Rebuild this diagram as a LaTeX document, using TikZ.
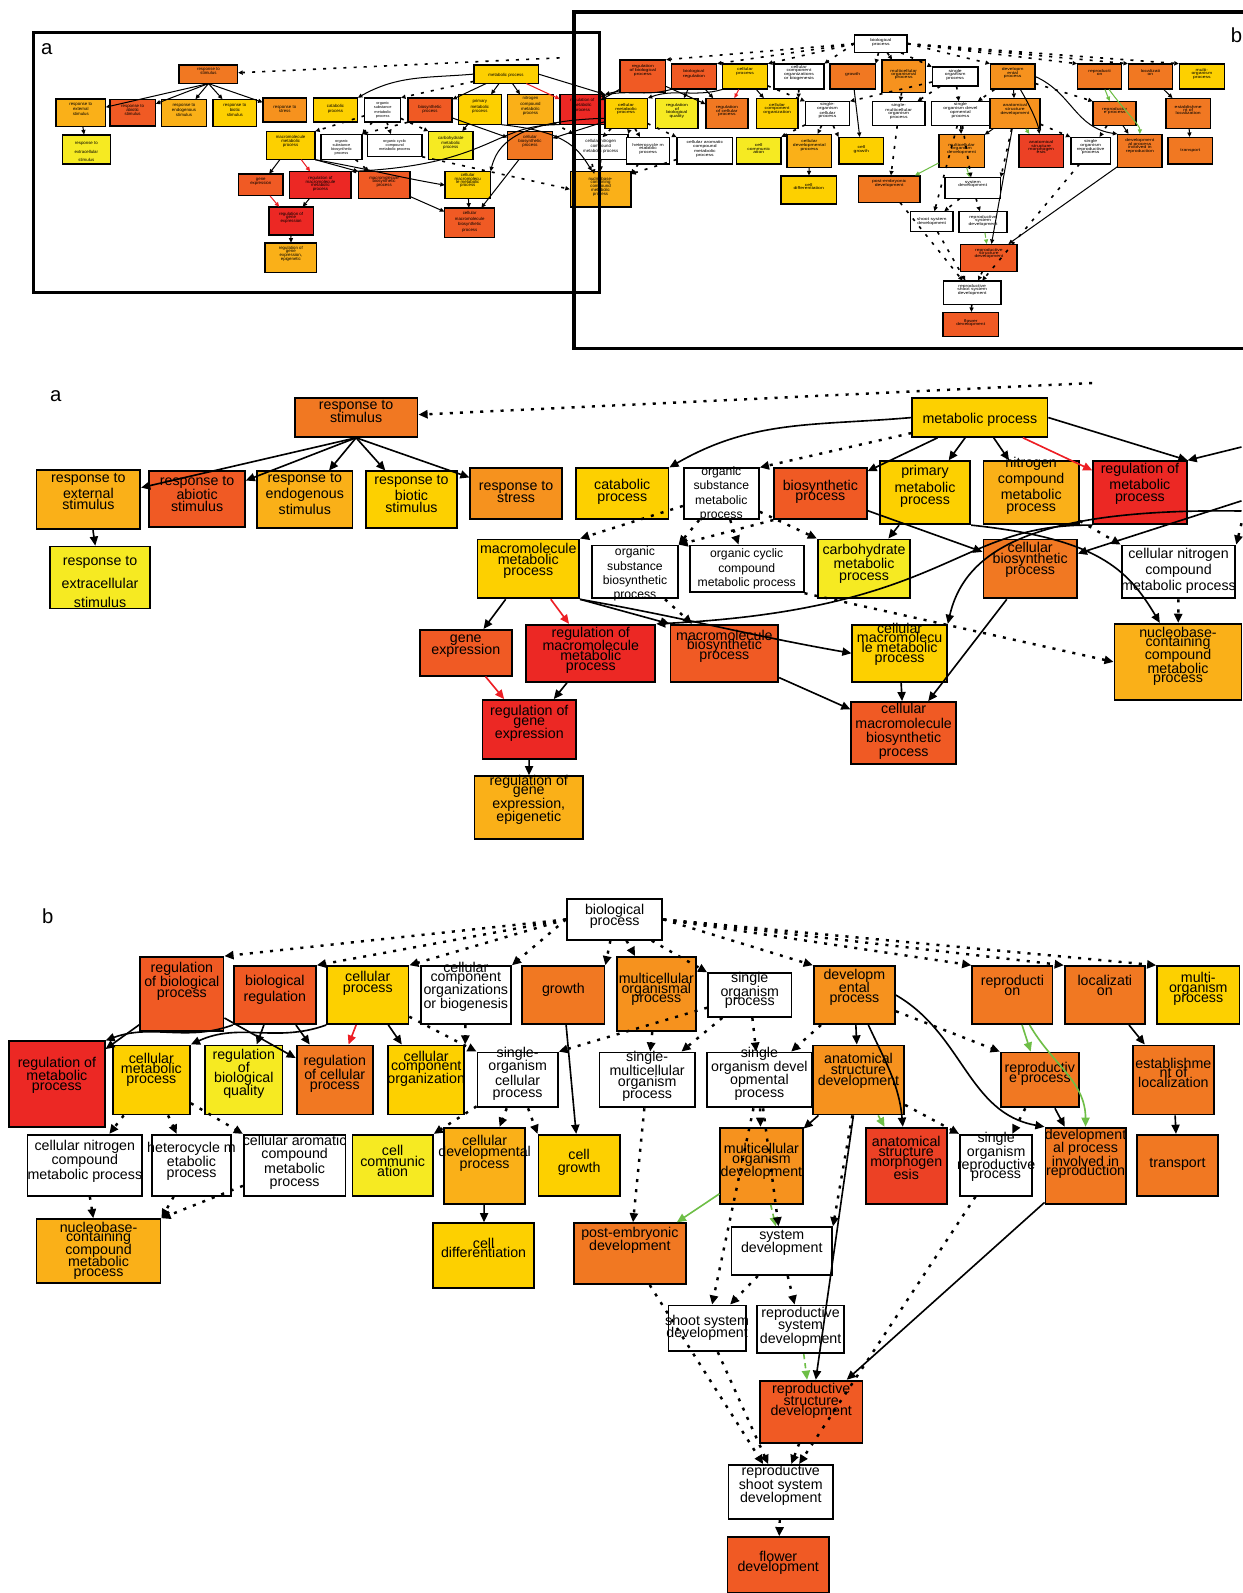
\documentclass[tikz,border=0pt]{standalone}
\usepackage{fontspec}
\setmainfont{Liberation Sans}
\usetikzlibrary{arrows.meta}

% --- term colours (enrichment scale) ---
\definecolor{goGold}{RGB}{253,208,0}
\definecolor{goYellow}{RGB}{246,234,34}
\definecolor{goAmber}{RGB}{250,176,24}
\definecolor{goOrange}{RGB}{246,146,30}
\definecolor{goDkOrange}{RGB}{241,120,34}
\definecolor{goRedOr}{RGB}{240,90,36}
\definecolor{goVermil}{RGB}{236,65,37}
\definecolor{goRed}{RGB}{236,40,36}
\definecolor{edgeRed}{RGB}{237,30,36}
\definecolor{edgeGreen}{RGB}{110,190,70}

\newcommand{\gofont}{\fontsize{14}{10.5}\selectfont}
\newcommand{\gosmall}{\fontsize{12}{14}\selectfont}
\newcommand{\tipL}{9pt}
\newcommand{\tipW}{8pt}
\newcommand{\edgew}{1.6pt}
\newcommand{\dotw}{2.4pt}
\newcommand{\boxw}{1.8pt}
\newif\ifshowshared
\showsharedtrue

\tikzset{
    gobox/.style={draw=black, line width=\boxw, inner sep=0pt, rectangle},
    golabel/.style={align=center, inner sep=0pt, font=\gofont, text=black},
    isa/.style={-{Triangle[length=\tipL,width=\tipW]}, line width=\edgew, draw=black},
    posreg/.style={isa, draw=edgeRed},
    upreg/.style={isa, draw=edgeGreen},
    greendash/.style={upreg, dash pattern=on 5pt off 4pt},
    partof/.style={isa, line width=\dotw, dash pattern=on 3pt off 7pt},
    frame/.style={draw=black, line width=3.5pt},
    panlab/.style={font=\fontsize{20}{24}\selectfont, inner sep=0pt},
    mini/.style={transform shape}
}

% term box: [label opts]{name}{x1}{y1}{x2}{y2}{fill}{text offset}{text}
\newcommand{\gonode}[9][]{%
    \node[gobox, fill=#7, minimum width={(#5-#3)*1pt}, minimum height={(#6-#4)*1pt}]
        (#2) at ({(#3+#5)/2},{(#4+#6)/2}) {};
    \node[golabel,#1] (#2-t) at ({(#3+#5)/2},{#4+#8}) {#9};%
}
% term that both panels share: drawn once in the overview
\newcommand{\sharednode}[9][]{%
    \ifshowshared
        \gonode[#1]{#2}{#3}{#4}{#5}{#6}{#7}{#8}{#9}%
    \else
        \node[inner sep=0pt, minimum width={(#5-#3)*1pt}, minimum height={(#6-#4)*1pt}]
            (#2) at ({(#3+#5)/2},{(#4+#6)/2}) {};%
    \fi
}

% =========================================================
% PANEL A: response to stimulus / metabolic process
% =========================================================
\newcommand{\panelA}{%
    \gonode{stim}{290}{392}{411}{430}{goDkOrange}{13}{response to\\[-0.5pt]stimulus}
    \gonode{met}{898}{392}{1031}{430}{goGold}{21}{metabolic process}
    \gonode{extS}{36}{463}{138}{521}{goAmber}{21}{response to\\[1pt]external\\[1pt]stimulus}
    \gonode{abio}{147}{464}{241}{519}{goRedOr}{22}{response to\\abiotic\\[1pt]stimulus}
    \gonode{endo}{253}{464}{347}{520}{goAmber}{22}{response to\\[1.5pt]endogenous\\[1.5pt]stimulus}
    \gonode{biot}{360}{464}{450}{520}{goGold}{22}{response to\\[1.5pt]biotic\\[1.5pt]stimulus}
    \gonode{stress}{463}{461}{553}{511}{goOrange}{23}{response to\\[-1pt]stress}
    \gonode{cata}{567}{461}{658}{511}{goGold}{23}{catabolic\\[1.5pt]process}
    \gonode[font=\gosmall]{orgsub}{673}{461}{747}{511}{white}{25}{organic\\substance\\metabolic\\process}
    \gonode{bios}{762}{461}{853}{511}{goRedOr}{23}{biosynthetic\\process}
    \gonode{prim}{866}{454}{955}{516}{goGold}{25}{primary\\[2pt]metabolic\\[2pt]process}
    \gonode{nitro}{968}{454}{1062}{516}{goAmber}{24}{nitrogen\\[1.5pt]compound\\[1.5pt]metabolic\\[1.5pt]process}
    \gonode{regmet}{1076}{454}{1168}{516}{goRed}{22}{regulation of\\[1.5pt]metabolic\\[1.5pt]process}
    \gonode{extra}{49}{538}{148}{599}{goYellow}{35}{response to\\[8.5pt]extracellular\\[8.5pt]stimulus}
    \gonode{macmet}{470}{531}{570}{589}{goGold}{21}{macromolecule\\metabolic\\process}
    \gonode[font=\gosmall]{orgsb}{583}{537}{667}{589}{white}{28}{organic\\substance\\biosynthetic\\process}
    \gonode[font=\gosmall]{orgcyc}{679}{537}{791}{583}{white}{23}{organic cyclic\\[0.5pt]compound\\[0.5pt]metabolic process}
    \gonode{carb}{805}{531}{896}{589}{goYellow}{24}{carbohydrate\\metabolic\\[1pt]process}
    \gonode{cbios}{968}{531}{1060}{589}{goDkOrange}{20}{cellular\\[0.5pt]biosynthetic\\process}
    \gonode{cnit}{1104}{537}{1216}{589}{white}{25}{cellular nitrogen\\[2pt]compound\\[2pt]metabolic process}
    \gonode{gene}{413}{620}{504}{665}{goRedOr}{16}{gene\\[-2.5pt]expression}
    \gonode{regmac}{518}{615}{645}{671}{goRed}{25}{regulation of\\[-1pt]macromolecule\\[-1pt]metabolic\\[-1pt]process}
    \gonode{macbio}{660}{615}{766}{671}{goRedOr}{21}{macromolecule\\[-1pt]biosynthetic\\[-1pt]process}
    \gonode{cmacmet}{839}{615}{932}{671}{goGold}{19}{cellular\\[-1pt]macromolecu\\[-1pt]le metabolic\\[-1pt]process}
    \gonode{nucA}{1097}{614}{1222}{689}{goAmber}{32}{nucleobase-\\[-1pt]containing\\[-1pt]compound\\[-1pt]metabolic\\[-1pt]process}
    \gonode{reggene}{475}{689}{567}{747}{goRed}{23}{regulation of\\[-1pt]gene\\[-1pt]expression}
    \gonode{cmacbio}{838}{691}{941}{752}{goRedOr}{29}{cellular\\[3.5pt]macromolecule\\[3.5pt]biosynthetic\\[3.5pt]process}
    \gonode{epi}{467}{764}{574}{826}{goAmber}{23}{regulation of\\[-1pt]gene\\[-1pt]expression,\\[-1pt]epigenetic}
    % loose ends (parents outside the panel)
    \coordinate (offA) at (1222,440);
    \coordinate (offB) at (1222,493);
    \coordinate (offB2) at (1222,503);
    \coordinate (offC) at (1075,377);
    \coordinate (offD) at (1222,515);
    % is_a
    \foreach \t in {extS,abio,endo,biot,stress}{\draw[isa] (stim.south) -- (\t);}
    \draw[isa] (extS) -- (extra);
    \draw[isa] (met.west) to[out=185,in=30] (cata.north east);
    \draw[isa] (met) -- (bios);
    \draw[isa] (met) -- (prim);
    \draw[isa] (met) -- (nitro);
    \draw[posreg] (met) -- (regmet);
    \draw[isa] (met.east) -- (regmet.north east);
    \draw[isa] (offA) -- (regmet.north east);
    \draw[isa] (offB) -- (cbios);
    \draw[isa] (prim) -- (carb);
    \draw[isa] (bios) -- (cbios);
    \draw[isa] (regmet.south west) .. controls (940,515) and (935,600) .. (regmac.north east);
    \draw[isa] (offB2) .. controls (1020,500) and (950,540) .. (cmacmet.north east);
    \draw[isa] (prim.south east) .. controls (1080,530) and (1110,560) .. (nucA.115);
    \draw[isa] (macmet) -- (gene);
    \draw[posreg] (macmet) -- (regmac);
    \draw[isa] (macmet.south east) -- (macbio.north west);
    \draw[isa] (macmet.south east) to[out=-10,in=170] (cmacmet.west);
    \draw[posreg] (gene) -- (reggene);
    \draw[isa] (regmac) -- (reggene);
    \draw[isa] (reggene) -- (epi);
    \draw[isa] (macbio) -- (cmacbio);
    \draw[isa] (cmacmet) -- (cmacbio);
    \draw[isa] (cbios) -- (cmacbio);
    % dotted
    \draw[partof] (offC) -- (stim);
    \draw[partof] (met) -- (orgsub.north east);
    \draw[partof] (orgsub) -- (macmet.north east);
    \draw[partof] (orgsub) -- (orgsb.north east);
    \draw[partof] (bios.south west) -- (orgsb.north east);
    \draw[partof] (orgsub) -- (orgcyc);
    \draw[partof] (orgsub) -- (carb.north west);
    \draw[partof] (orgsb) -- (macbio);
    \draw[partof] (nitro) -- (cnit.north west);
    \draw[partof] (offD) -- (cnit.north east);
    \draw[partof] (cnit) -- (nucA);
    \draw[partof] (orgcyc.south east) -- (nucA.west);
}

% =========================================================
% PANEL B: biological process
% =========================================================
\newcommand{\panelB}{%
    \gonode{bio}{558}{885}{652}{925}{white}{17}{biological\\process}
    \gonode{rbp}{138}{942}{220}{1015}{goRedOr}{24}{regulation\\of biological\\process}
    \gonode{breg}{230}{951}{311}{1008}{goRedOr}{23}{biological\\[1.5pt]regulation}
    \gonode{cell}{322}{951}{402}{1008}{goGold}{17}{cellular\\process}
    \gonode{ccob}{414}{951}{503}{1008}{white}{20}{cellular\\[-1pt]component\\[-1pt]organizations\\[-1pt]or biogenesis}
    \gonode{growth}{514}{951}{595}{1008}{goDkOrange}{23}{growth}
    \gonode{mop}{607}{942}{685}{1015}{goOrange}{32}{multicellular\\[-1pt]organismal\\[-1pt]process}
    \gonode{sop}{697}{958}{779}{1001}{white}{17}{single\\[-1pt]organism\\[-1pt]process}
    \gonode{dev}{801}{951}{881}{1008}{goOrange}{21}{developm\\[-1pt]ental\\[-1pt]process}
    \gonode{repr}{957}{951}{1036}{1008}{goDkOrange}{19}{reproducti\\[-1.5pt]on}
    \gonode{loc}{1048}{951}{1127}{1008}{goDkOrange}{19}{localizati\\[-1.5pt]on}
    \gonode{mulorg}{1139}{951}{1220}{1008}{goGold}{22}{multi-\\[-0.5pt]organism\\[-0.5pt]process}
    \sharednode{regmetB}{9}{1025}{103}{1109}{goRed}{33}{regulation of\\[-1pt]metabolic\\[-1pt]process}
    \gonode{cmet}{111}{1029}{187}{1097}{goGold}{24}{cellular\\[-0.5pt]metabolic\\[-0.5pt]process}
    \gonode{rbq}{202}{1029}{278}{1097}{goYellow}{28}{regulation\\[-1pt]of\\[-1pt]biological\\[-1pt]quality}
    \gonode{rcp}{292}{1029}{367}{1097}{goDkOrange}{28}{regulation\\[-0.5pt]of cellular\\[-0.5pt]process}
    \gonode{cco}{382}{1029}{457}{1097}{goGold}{23}{cellular\\[-1pt]component\\[-1pt]organization}
    \gonode{soc}{470}{1036}{549}{1090}{white}{21}{single-\\[-1pt]organism\\[1pt]cellular\\[1pt]process}
    \gonode{smop}{590}{1036}{684}{1090}{white}{23}{single-\\[0.5pt]multicellular\\[0.5pt]organism\\[0.5pt]process}
    \gonode{sodp}{696}{1036}{799}{1090}{white}{21}{single\\[-1pt]organism devel\\[-0.5pt]opmental\\[1.5pt]process}
    \gonode{asd}{800}{1029}{890}{1097}{goOrange}{25}{anatomical\\[0.5pt]structure\\[0.5pt]development}
    \gonode{rp}{985}{1036}{1062}{1090}{goDkOrange}{21}{reproductiv\\[-0.5pt]e process}
    \gonode{eloc}{1115}{1029}{1195}{1097}{goDkOrange}{27}{establishme\\[-1pt]nt of\\[-1pt]localization}
    \sharednode{cnitB}{27}{1117}{140}{1177}{white}{26}{cellular nitrogen\\[0.5pt]compound\\[0.5pt]metabolic process}
    \gonode{het}{150}{1117}{227}{1177}{white}{26}{heterocycle m\\[-0.5pt]etabolic\\[0.5pt]process}
    \gonode{caro}{240}{1117}{340}{1177}{white}{27}{cellular aromatic\\[1.5pt]compound\\[1.5pt]metabolic\\[1.5pt]process}
    \gonode{ccom}{347}{1117}{426}{1177}{goYellow}{26}{cell\\[0.5pt]communic\\[-0.5pt]ation}
    \gonode{cdp}{437}{1110}{517}{1185}{goAmber}{25}{cellular\\[1pt]developmental\\[1pt]process}
    \gonode{cgro}{530}{1117}{610}{1177}{goGold}{27}{cell\\[1.5pt]growth}
    \gonode{mod}{709}{1110}{790}{1185}{goOrange}{33}{multicellular\\[-1pt]organism\\[-1pt]development}
    \gonode{asm}{852}{1110}{932}{1185}{goVermil}{30}{anatomical\\[-1pt]structure\\[-1pt]morphogen\\[-1pt]esis}
    \gonode{sorp}{945}{1117}{1016}{1177}{white}{22}{single\\[-1pt]organism\\[-1pt]reproductive\\[-1pt]process}
    \gonode{dpir}{1029}{1110}{1108}{1185}{goDkOrange}{26}{development\\[-1pt]al process\\[-1pt]involved in\\[-1pt]reproduction}
    \gonode{trans}{1119}{1117}{1199}{1177}{goDkOrange}{29}{transport}
    \sharednode{nucB}{36}{1200}{158}{1263}{goAmber}{31}{nucleobase-\\[-1.5pt]containing\\[-1.5pt]compound\\[-1.5pt]metabolic\\[-1pt]process}
    \gonode{cdiff}{426}{1204}{526}{1268}{goGold}{24}{cell\\[-1.5pt]differentiation}
    \gonode{ped}{565}{1204}{675}{1264}{goDkOrange}{17}{post-embryonic\\[-1pt]development}
    \gonode{sysd}{720}{1208}{819}{1255}{white}{15}{system\\[-1.5pt]development}
    \gonode{ssd}{658}{1285}{734}{1330}{white}{22}{shoot system\\[-1.5pt]development}
    \gonode{rsd}{745}{1285}{831}{1332}{white}{21}{reproductive\\[-1pt]system\\[-1pt]development}
    \gonode{rstd}{748}{1359}{849}{1420}{goRedOr}{20}{reproductive\\[-1pt]structure\\[-1pt]development}
    \gonode{rssd}{717}{1442}{820}{1495}{white}{20}{reproductive\\[-1pt]shoot system\\[-1pt]development}
    \gonode{flow}{716}{1513}{816}{1568}{goRedOr}{25}{flower\\[-1pt]development}
    % dotted fan from the root
    \foreach \t in {rbp,breg,cell,ccob}{\draw[partof] (bio.west) -- (\t.north east);}
    \draw[partof] (bio) -- (growth.north east);
    \draw[partof] (bio) -- (mop);
    \draw[partof] (bio) -- (sop.north west);
    \foreach \t in {dev,repr,loc,mulorg}{\draw[partof] (bio.east) -- (\t.north west);}
    % regulation branch
    \draw[isa] (rbp) -- (regmetB);
    \draw[isa] (breg.south west) to[out=200,in=20] (regmetB.north east);
    \draw[isa] (rbp) -- (rcp);
    \draw[isa] (breg) -- (rbq);
    \draw[isa] (breg) -- (rcp);
    \draw[isa] (cell.south west) to[out=200,in=25] (cmet.north east);
    \draw[posreg] (cell) -- (rcp);
    \draw[isa] (cell) -- (cco);
    \draw[partof] (ccob) -- (cco.north east);
    \draw[partof] (cell) -- (soc.north west);
    \draw[partof] (sop) -- (soc.north east);
    \draw[isa] (growth) -- (cgro);
    % cellular metabolism
    \draw[partof] (cmet) -- (cnitB);
    \draw[partof] (cmet) -- (het);
    \draw[partof] (cmet) -- (caro.north west);
    \draw[partof] (cnitB) -- (nucB);
    \draw[partof] (het) -- (nucB.north east);
    \draw[partof] (caro) -- (nucB.north east);
    \draw[partof] (soc) -- (ccom.north east);
    \draw[partof] (soc) -- (cdp);
    \draw[partof] (soc) -- (cgro.north west);
    \draw[isa] (cdp) -- (cdiff);
    % development
    \draw[partof] (mop) -- (smop);
    \draw[partof] (sop) -- (smop);
    \draw[partof] (sop) -- (sodp);
    \draw[partof] (dev) -- (sodp);
    \draw[isa] (dev) -- (asd);
    \draw[isa] (dev) to[out=-65,in=95] (asm);
    \draw[isa] (dev.east) to[out=-30,in=170] (dpir.north west);
    \draw[partof] (dev) -- (rp.north west);
    \draw[isa] (asd) -- (mod);
    \draw[upreg] (asd) -- (asm);
    \draw[isa] (asd) -- (rstd);
    \draw[partof] (asd) -- (sorp.north west);
    \draw[partof] (asd) -- (sysd.north east);
    \draw[upreg] (mod) -- (ped);
    \draw[greendash] (mod) -- (sysd);
    \draw[partof] (smop) -- (ped);
    \draw[partof] (sodp) -- (mod);
    \draw[partof] (sodp) -- (ssd);
    \draw[partof] (sodp) -- (sysd);
    \draw[partof] (sysd) -- (ssd);
    \draw[partof] (sysd) -- (rsd);
    \draw[greendash] (rsd) -- (rstd);
    % reproduction
    \draw[upreg] (repr) -- (rp);
    \draw[upreg] (repr) to[out=-60,in=90] (dpir);
    \draw[isa] (rp) -- (dpir);
    \draw[partof] (rp) -- (sorp);
    \draw[isa] (dpir) -- (rstd);
    \draw[isa] (loc) -- (eloc);
    \draw[isa] (eloc) -- (trans);
    \draw[partof] (sorp) -- (rssd);
    \draw[partof] (ped) -- (rssd);
    \draw[partof] (ssd) -- (rssd);
    \draw[partof] (rstd) -- (rssd);
    \draw[partof] (rssd) -- (flow);
}

% smaller marks for the overview copy
\newcommand{\minilook}{%
    \renewcommand{\tipL}{4.5pt}\renewcommand{\tipW}{4pt}%
    \renewcommand{\edgew}{1pt}\renewcommand{\dotw}{1.6pt}%
    \renewcommand{\boxw}{1.4pt}%
    \renewcommand{\gofont}{\fontsize{9}{8}\selectfont}%
    \renewcommand{\gosmall}{\fontsize{8}{8.5}\selectfont}%
}

\begin{document}
\begin{tikzpicture}[x=1pt, y=-1pt]
    \useasboundingbox (0,0) rectangle (1223,1568);
    \fill[white] (0,0) rectangle (1223,1568);

    % =========================================================
    % 1. OVERVIEW (whole graph, shrunk)
    % =========================================================
    \begin{scope}[shift={(38,-120.6)}, xscale=0.477, yscale=0.471,
                  mini, name prefix=ma-]
        \minilook
        \panelA
    \end{scope}
    \begin{scope}[shift={(534.25,-350.7)}, xscale=0.55, yscale=0.435,
                  mini, name prefix=mb-]
        \minilook
        \showsharedfalse
        \panelB
    \end{scope}

    % panel frames
    \draw[frame] (33,32) rectangle (590,288);
    \draw[frame] (565,12) rectangle (1240,343);
    \node[panlab] (ova) at (46,48) {a};
    \node[panlab] (ovb) at (1217,35) {b};

    % =========================================================
    % 2. DETAILED PANELS
    % =========================================================
    \node[panlab] (laba) at (55,390) {a};
    \panelA

    \node[panlab] (labb) at (47,902) {b};
    \panelB

\end{tikzpicture}
\end{document}
